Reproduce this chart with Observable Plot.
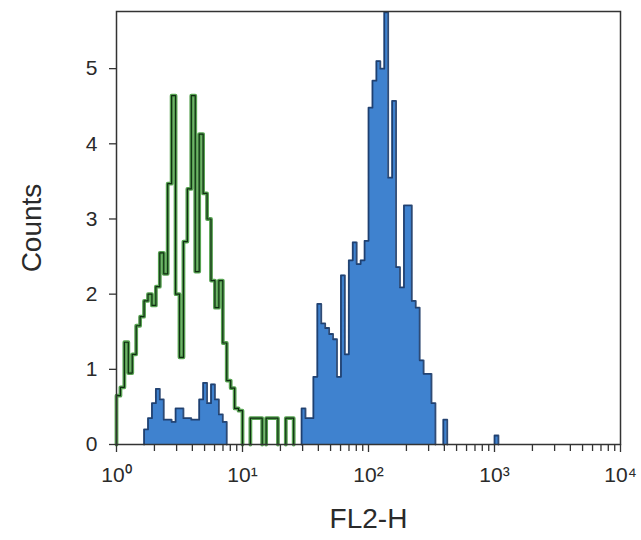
<!DOCTYPE html>
<html>
<head>
<meta charset="utf-8">
<script src="https://cdn.jsdelivr.net/npm/d3@7"></script>
<script src="https://cdn.jsdelivr.net/npm/@observablehq/plot@0.6"></script>
<style>
  html, body { margin: 0; padding: 0; background: #fff; }
  #chart svg { display: block; }
</style>
</head>
<body>
<div id="chart"></div>
<script>
// ---- data ----
const binsPerDecade = 32; // histogram channels per log decade
// isotype control (green outline), counts per channel starting at 10^0
const isotypeCounts = [
  0.65, 0.76, 1.36, 0.95, 1.2, 1.58, 1.7, 1.91, 2.0, 1.85,
  2.1, 2.55, 2.27, 3.47, 4.64, 2.0, 1.16, 2.7, 3.4, 4.64,
  2.3, 4.13, 3.34, 3.0, 2.18, 1.82, 2.18, 1.35, 0.85, 0.75,
  0.48, 0.45, 0, 0, 0.35, 0.35, 0.35, 0, 0.35, 0.35,
  0.35, 0, 0, 0.35, 0.35
];
// stained sample (blue filled), counts per channel starting at 10^0
const stainedCounts = [
  0, 0, 0, 0, 0, 0, 0, 0.2, 0.35, 0.55,
  0.74, 0.6, 0.33, 0.33, 0.3, 0.48, 0.48, 0.35, 0.35, 0.33,
  0.33, 0.6, 0.82, 0.55, 0.8, 0.6, 0.4, 0.3, 0, 0,
  0, 0, 0, 0, 0, 0, 0, 0, 0, 0,
  0, 0, 0, 0, 0, 0, 0, 0.48, 0.35, 0.35,
  0.9, 1.87, 1.61, 1.55, 1.47, 1.4, 0.9, 2.25, 1.2, 2.45,
  2.69, 2.4, 2.45, 2.71, 4.48, 4.84, 5.1, 5.0, 5.75, 3.55,
  4.57, 2.36, 2.09, 3.18, 3.18, 1.91, 1.82, 1.12, 0.94, 0.94,
  0.55, 0, 0, 0.33, 0, 0, 0, 0, 0, 0,
  0, 0, 0, 0, 0, 0, 0.12
];
const xDecades = [1, 10, 100, 1000, 10000];
const xTickLabels = ["10⁰", "10¹", "10²", "10³", "10⁴"];
const yTicks = [0, 1, 2, 3, 4, 5];
const xLabel = "FL2-H";
const yLabel = "Counts";

// ---- helpers ----
const edge = i => Math.pow(10, i / binsPerDecade);
const minorTicks = xDecades.slice(0, -1).flatMap(d => [2,3,4,5,6,7,8,9].map(m => m * d));

function outline(counts) {
  const pts = []; let open = false; let seg = 0;
  counts.forEach((c, i) => {
    if (c > 0) {
      if (!open) { seg++; pts.push({x: edge(i), y: 0, z: seg}); open = true; }
      pts.push({x: edge(i), y: c, z: seg});
      if (!(counts[i + 1] > 0)) { pts.push({x: edge(i + 1), y: 0, z: seg}); open = false; }
    }
  });
  return pts;
}

const font = "'Liberation Sans', Arial, Helvetica, sans-serif";
const isoPts = outline(isotypeCounts);
const stPts = outline(stainedCounts);
const textColor = "#2a2a2a";

const chart = Plot.plot({
  width: 641,
  height: 540,
  marginLeft: 116,
  marginRight: 21,
  marginTop: 11,
  marginBottom: 96,
  style: {fontFamily: font, color: "#333", background: "#fff"},
  x: {type: "log", domain: [1, 10000], axis: null},
  y: {domain: [0, 5.76], axis: null},
  marks: [
    // isotype control (green outline)
    Plot.line(isoPts, {x: "x", y: "y", z: "z", curve: "step-after",
      stroke: "#46993f", strokeWidth: 3.8, strokeOpacity: 0.9}),
    Plot.line(isoPts, {x: "x", y: "y", z: "z", curve: "step-after",
      stroke: "#0f2d12", strokeWidth: 1.2}),
    // stained sample (blue filled)
    Plot.areaY(stPts, {x: "x", y: "y", z: "z", curve: "step-after", fill: "#3f82cf"}),
    Plot.line(stPts, {x: "x", y: "y", z: "z", curve: "step-after",
      stroke: "#1b3866", strokeWidth: 1.8, strokeOpacity: 0.9}),
    Plot.frame({stroke: "#333", strokeWidth: 1.5}),
    // axis ticks
    Plot.axisX(minorTicks, {tickSize: 7, tickFormat: () => "", strokeWidth: 1.3, label: null}),
    Plot.axisX(xDecades, {tickSize: 8, tickFormat: () => "", strokeWidth: 1.3, label: null}),
    Plot.axisY(yTicks, {tickSize: 7, tickFormat: () => "", strokeWidth: 1.3, label: null}),
    // tick labels
    Plot.text(xDecades, {x: d => d, frameAnchor: "bottom", dy: 31, text: (d, i) => xTickLabels[i],
      fontSize: 21, fill: textColor, textAnchor: "middle", lineAnchor: "middle"}),
    Plot.text(yTicks, {y: d => d, frameAnchor: "left", dx: -19, text: d => String(d),
      fontSize: 21, fill: textColor, textAnchor: "end", lineAnchor: "middle"}),
    // axis titles
    Plot.text([xLabel], {frameAnchor: "bottom", dy: 75, fontSize: 28, fill: textColor,
      textAnchor: "middle", lineAnchor: "middle"}),
    Plot.text([yLabel], {frameAnchor: "left", dx: -84, rotate: -90, fontSize: 28, fill: textColor,
      textAnchor: "middle", lineAnchor: "middle"})
  ]
});
document.getElementById("chart").appendChild(chart);
</script>
</body>
</html>
